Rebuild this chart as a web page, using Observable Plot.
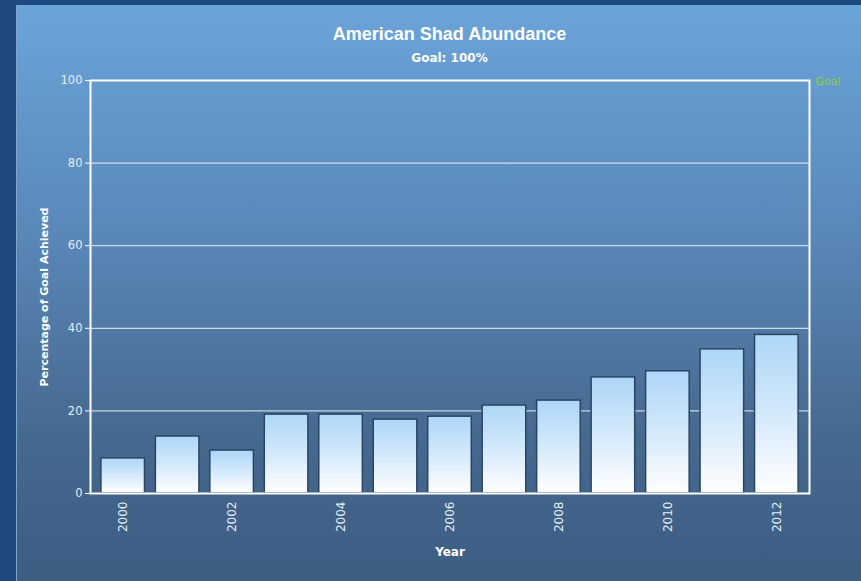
<!DOCTYPE html>
<html>
<head>
<meta charset="utf-8">
<script src="https://cdn.jsdelivr.net/npm/d3@7"></script>
<script src="https://cdn.jsdelivr.net/npm/@observablehq/plot@0.6"></script>
<style>
  html, body { margin: 0; padding: 0; }
  #outer { position: relative; width: 861px; height: 581px; background: #1f4a7f; overflow: hidden; }
  #panel { position: absolute; left: 16px; top: 5px; width: 845px; height: 576px;
           background: linear-gradient(to bottom, #6ba4da 0%, #5987b8 40%, #46698f 75%, #3d5d83 100%);
           border-left: 1px solid #7ea6cf; }
  #title { position: absolute; left: 90px; width: 719px; top: 24px; text-align: center;
           font: bold 18px "Liberation Sans", Arial, sans-serif; color: #ffffff; }
  #subtitle { position: absolute; left: 90px; width: 719px; top: 51px; text-align: center;
           font: bold 12px "DejaVu Sans", sans-serif; color: #ffffff; }
  #chart { position: absolute; left: 0; top: 0; }
</style>
</head>
<body>
<div id="outer">
  <div id="panel"></div>
  <div id="chart"></div>
  <div id="title">American Shad Abundance</div>
  <div id="subtitle">Goal: 100%</div>
</div>
<script>
const years = [2000, 2001, 2002, 2003, 2004, 2005, 2006, 2007, 2008, 2009, 2010, 2011, 2012];
const percentAchieved = [8.5, 13.8, 10.4, 19.1, 19.1, 17.9, 18.6, 21.3, 22.5, 28.1, 29.6, 34.9, 38.4];
const yTicks = [0, 20, 40, 60, 80, 100];
const xTickYears = [2000, 2002, 2004, 2006, 2008, 2010, 2012];
const goalLabel = "Goal";
const yAxisTitle = "Percentage of Goal Achieved";

const data = years.map((year, i) => ({year, value: percentAchieved[i]}));

const plot = Plot.plot({
  width: 861,
  height: 581,
  marginLeft: 90,
  marginRight: 52,
  marginTop: 80,
  marginBottom: 88,
  style: {background: "transparent", fontFamily: "DejaVu Sans, sans-serif", fontSize: "11px", color: "#e4edf6"},
  x: {type: "band", domain: years, padding: 0.2, round: false},
  y: {domain: [0, 100]},
  marks: [
    Plot.gridY([20, 40, 60, 80], {stroke: "#f2f7fb", strokeOpacity: 0.95, strokeWidth: 1}),
    Plot.barY(data, {x: "year", y: "value", fill: "url(#barGrad)", stroke: "#2a4563", strokeWidth: 1.5}),
    Plot.frame({stroke: "#ffffff", strokeWidth: 2}),
    Plot.axisY({ticks: yTicks, tickSize: 5, tickPadding: 3, stroke: "#ffffff", fill: "#e4edf6", fontSize: 11.5, label: null}),
    Plot.text([yAxisTitle], {frameAnchor: "left", textAnchor: "middle", dx: -46, dy: 10, rotate: -90, text: d => d,
                fill: "#ffffff", fontWeight: "bold", fontSize: 11}),
    Plot.axisX({ticks: xTickYears, tickFormat: d => String(d), tickSize: 0, tickPadding: 8, tickRotate: -90, fill: "#e4edf6", fontSize: 12,
                label: "Year", labelAnchor: "center", labelOffset: 62, labelArrow: "none"}),
    Plot.text([goalLabel], {frameAnchor: "top-right", dx: 6, dy: -3, textAnchor: "start", text: d => d, fill: "#8fcf3a", fontSize: 11})
  ]
});

const svg = d3.select(plot);
const defs = svg.insert("defs", ":first-child");
const g = defs.append("linearGradient").attr("id", "barGrad").attr("x1", 0).attr("y1", 0).attr("x2", 0).attr("y2", 1);
g.append("stop").attr("offset", "0%").attr("stop-color", "#acd6f8");
g.append("stop").attr("offset", "55%").attr("stop-color", "#d8ebfb");
g.append("stop").attr("offset", "100%").attr("stop-color", "#ffffff");
svg.selectAll("[aria-label='x-axis label']").attr("font-weight", "bold").attr("fill", "#ffffff");

document.getElementById("chart").appendChild(plot);
</script>
</body>
</html>
